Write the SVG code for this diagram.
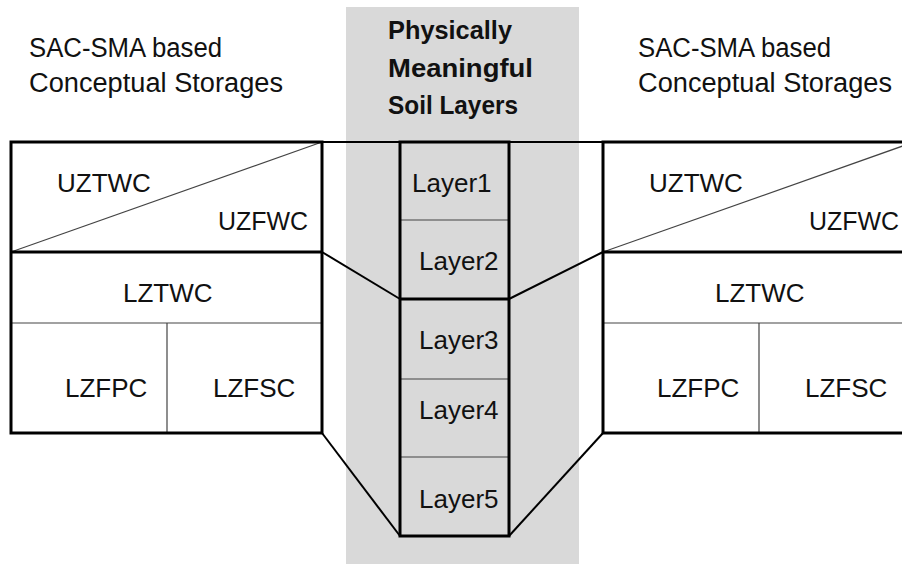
<svg xmlns="http://www.w3.org/2000/svg" width="902" height="564" viewBox="0 0 902 564">
<style>
.thick{fill:none;stroke:#000;stroke-width:3}
.thin{fill:none;stroke:#444;stroke-width:1.2}
.conn{fill:none;stroke:#000;stroke-width:2}
.lbl{font-family:"Liberation Sans",Arial,sans-serif;font-size:26px;fill:#111}
.ttl{font-family:"Liberation Sans",Arial,sans-serif;font-size:27px;fill:#111}
.bold{font-family:"Liberation Sans",Arial,sans-serif;font-size:25px;font-weight:bold;fill:#111}
</style>
<rect x="346" y="7" width="233" height="557" fill="#d9d9d9"/>
<g id="title-left">
<text class="ttl" x="29" y="57" textLength="193" lengthAdjust="spacingAndGlyphs">SAC-SMA based</text>
<text class="ttl" x="29" y="92" textLength="254" lengthAdjust="spacingAndGlyphs">Conceptual Storages</text>
</g>
<g id="title-center">
<text class="bold" x="388" y="39" textLength="124" lengthAdjust="spacingAndGlyphs">Physically</text>
<text class="bold" x="388" y="77" textLength="145" lengthAdjust="spacingAndGlyphs">Meaningful</text>
<text class="bold" x="388" y="114" textLength="130" lengthAdjust="spacingAndGlyphs">Soil Layers</text>
</g>
<g id="title-right">
<text class="ttl" x="638" y="57" textLength="193" lengthAdjust="spacingAndGlyphs">SAC-SMA based</text>
<text class="ttl" x="638" y="92" textLength="254" lengthAdjust="spacingAndGlyphs">Conceptual Storages</text>
</g>
<g id="connectors">
<line class="conn" x1="322" y1="142" x2="400" y2="142"/>
<line class="conn" x1="509" y1="142" x2="603" y2="142"/>
<line class="conn" x1="322" y1="252" x2="400" y2="299"/>
<line class="conn" x1="509" y1="299" x2="603" y2="252"/>
<line class="conn" x1="322" y1="433" x2="400" y2="536"/>
<line class="conn" x1="509" y1="536" x2="603" y2="433"/>
</g>
<g id="storages-left">
<line class="thin" x1="11" y1="252" x2="322" y2="142"/>
<line class="thin" x1="11" y1="323" x2="322" y2="323"/>
<line class="thin" x1="167" y1="323" x2="167" y2="433"/>
<rect class="thick" x="11" y="142" width="311" height="291"/>
<line class="thick" x1="11" y1="252" x2="322" y2="252"/>
<text class="lbl" x="57" y="192">UZTWC</text>
<text class="lbl" x="218" y="230" textLength="90" lengthAdjust="spacingAndGlyphs">UZFWC</text>
<text class="lbl" x="123" y="302">LZTWC</text>
<text class="lbl" x="65" y="397">LZFPC</text>
<text class="lbl" x="213" y="397">LZFSC</text>
</g>
<g id="soil-layers">
<line class="thin" x1="400" y1="220" x2="509" y2="220"/>
<line class="thin" x1="400" y1="379" x2="509" y2="379"/>
<line class="thin" x1="400" y1="457" x2="509" y2="457"/>
<rect class="thick" x="400" y="142" width="109" height="394"/>
<line class="thick" x1="400" y1="299" x2="509" y2="299"/>
<text class="lbl" x="412" y="192">Layer1</text>
<text class="lbl" x="419" y="270">Layer2</text>
<text class="lbl" x="419" y="349">Layer3</text>
<text class="lbl" x="419" y="419">Layer4</text>
<text class="lbl" x="419" y="508">Layer5</text>
</g>
<g id="storages-right">
<line class="thin" x1="603" y1="252" x2="914" y2="142"/>
<line class="thin" x1="603" y1="323" x2="914" y2="323"/>
<line class="thin" x1="759" y1="323" x2="759" y2="433"/>
<rect class="thick" x="603" y="142" width="311" height="291"/>
<line class="thick" x1="603" y1="252" x2="914" y2="252"/>
<text class="lbl" x="649" y="192">UZTWC</text>
<text class="lbl" x="809" y="230" textLength="90" lengthAdjust="spacingAndGlyphs">UZFWC</text>
<text class="lbl" x="715" y="302">LZTWC</text>
<text class="lbl" x="657" y="397">LZFPC</text>
<text class="lbl" x="805" y="397">LZFSC</text>
</g>
</svg>
